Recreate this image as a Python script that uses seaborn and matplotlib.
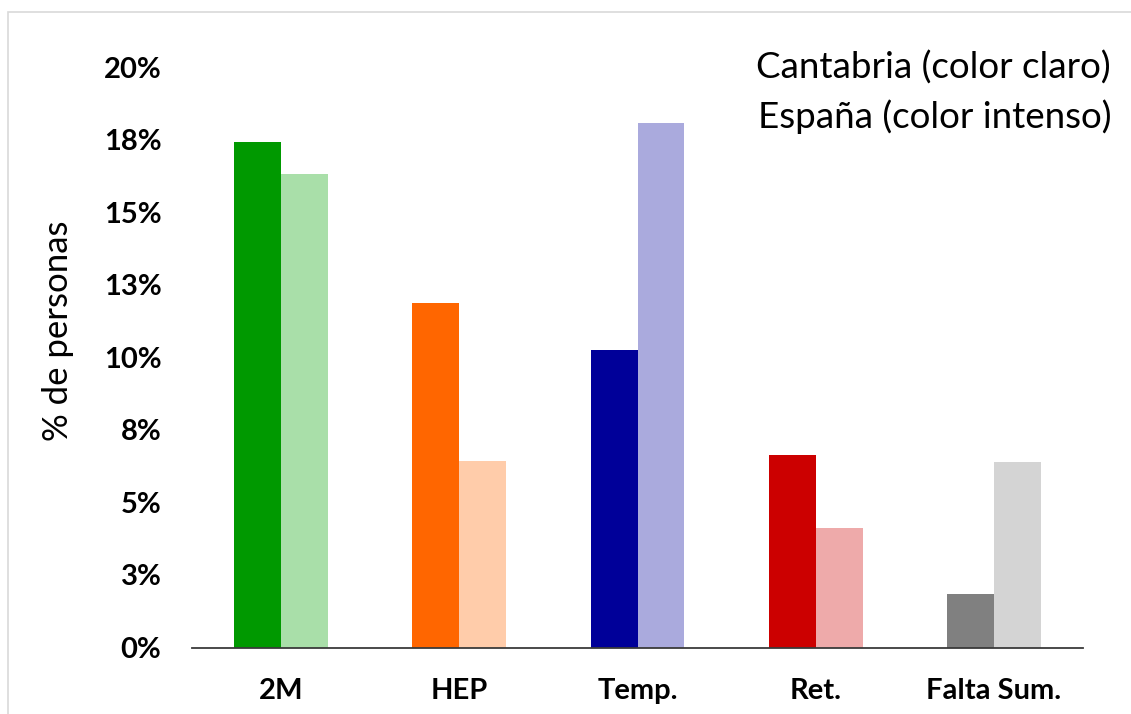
import matplotlib
matplotlib.use("Agg")
import matplotlib.pyplot as plt
import seaborn as sns
import pandas as pd
from matplotlib.patches import Rectangle
from matplotlib.ticker import FixedLocator, FixedFormatter

categories = ["2M", "HEP", "Temp.", "Ret.", "Falta Sum."]
espana = [17.4, 11.86, 10.24, 6.63, 1.85]      # color intenso
cantabria = [16.31, 6.42, 18.06, 4.10, 6.38]   # color claro
dark_colors = ["#009900", "#FF6600", "#000099", "#CC0000", "#808080"]
light_colors = ["#A9DFA9", "#FFCCAA", "#AAAADD", "#EEAAAA", "#D4D4D4"]
yticks = [0, 2.5, 5, 7.5, 10, 12.5, 15, 17.5, 20]
ytick_labels = ["0%", "3%", "5%", "8%", "10%", "13%", "15%", "18%", "20%"]

df = pd.DataFrame({
    "cat": categories * 2,
    "val": espana + cantabria,
    "region": ["España"] * 5 + ["Cantabria"] * 5,
})

sns.set_theme(style="white")
plt.rcParams["font.family"] = ["Lato", "DejaVu Sans"]

W, H = 1131, 714
fig = plt.figure(figsize=(W / 100, H / 100), dpi=100)
ax = fig.add_axes([192 / W, (H - 647.5) / H, (1083 - 192) / W, (647.5 - 67) / H])

sns.barplot(data=df, x="cat", y="val", hue="region", hue_order=["España", "Cantabria"],
            order=categories, width=0.527, dodge=True, gap=0, ax=ax, legend=False,
            errorbar=None, saturation=1)

bars = [p for p in ax.patches if isinstance(p, Rectangle)]
cols = dark_colors + light_colors
for p, c in zip(bars, cols):
    p.set_facecolor(c)
    p.set_edgecolor("none")

ax.set_xlim(-0.5, 4.5)
ax.set_ylim(0, 20)
ax.yaxis.set_major_locator(FixedLocator(yticks))
ax.yaxis.set_major_formatter(FixedFormatter(ytick_labels))
for s in ["top", "right", "left"]:
    ax.spines[s].set_visible(False)
ax.spines["bottom"].set_color("#3a3a3a")
ax.spines["bottom"].set_linewidth(1.3)
ax.tick_params(axis="both", length=0)
ax.tick_params(axis="y", pad=22, labelsize=21)
ax.tick_params(axis="x", pad=22, labelsize=21)
for lab in ax.get_xticklabels() + ax.get_yticklabels():
    lab.set_fontweight("bold")
    lab.set_color("black")
ax.set_xlabel("")
ax.set_ylabel("% de personas", fontsize=25, color="black")
ax.yaxis.set_label_coords((58 - 192) / 891, (647.5 - 331) / 580.5)
ax.yaxis.label.set_va("center")
ax.grid(False)

fig.text(1111 / W, 1 - 68 / H, "Cantabria (color claro)", ha="right", va="center",
         fontsize=26.5, color="black")
fig.text(1111 / W, 1 - 117 / H, "España (color intenso)", ha="right", va="center",
         fontsize=26.5, color="black")

# outer chart frame (partially cropped)
fig.patches.append(Rectangle((8 / W, -0.1), 1.2, 1 - 12 / H + 0.1, transform=fig.transFigure,
                             fill=False, edgecolor="#D9D9D9", linewidth=1.2))

fig.savefig("out.png", dpi=100)
